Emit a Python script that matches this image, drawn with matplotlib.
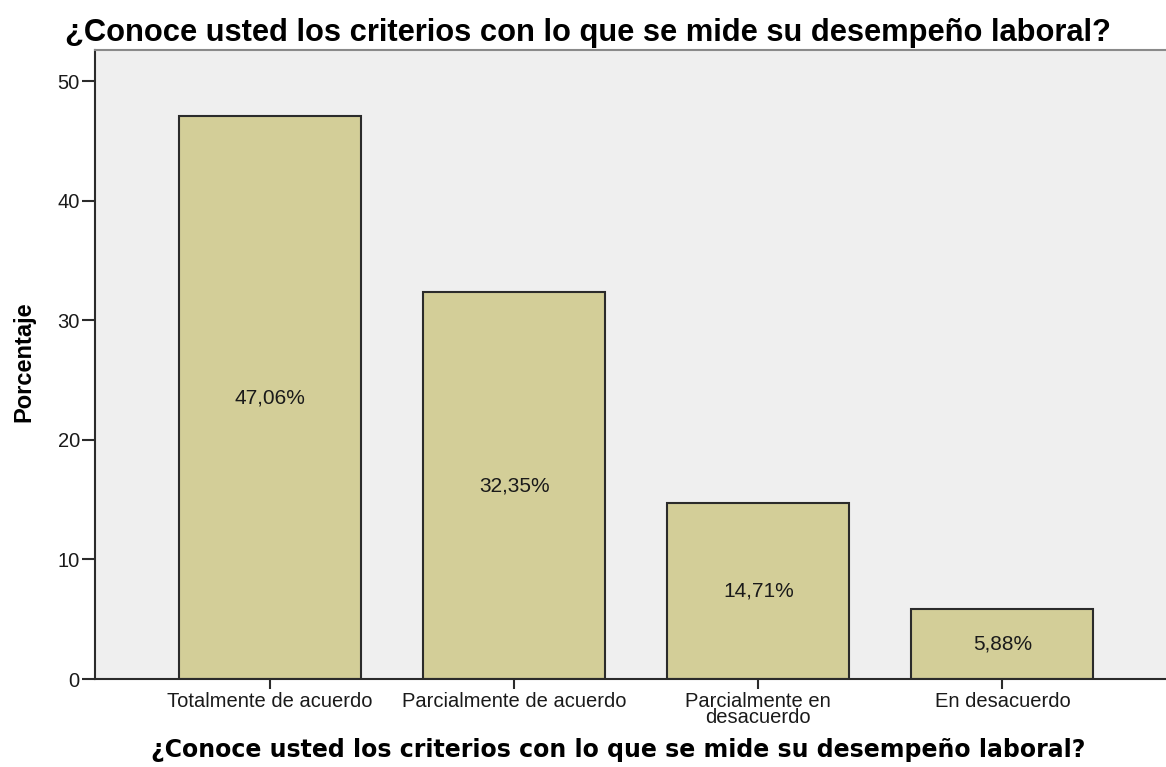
import matplotlib.pyplot as plt
import numpy as np

categorias = ['Totalmente de acuerdo', 'Parcialmente de acuerdo',
              'Parcialmente en\ndesacuerdo', 'En desacuerdo']
porcentajes = [47.06, 32.35, 14.71, 5.88]
etiquetas = ['47,06%', '32,35%', '14,71%', '5,88%']

pregunta = '¿Conoce usted los criterios con lo que se mide su desempeño laboral?'

fig = plt.figure(figsize=(11.66, 7.67), dpi=100)
ax = fig.add_axes([0.0815, 0.1147, 0.9185, 0.8201])
ax.set_facecolor('#efefef')

x = np.arange(len(porcentajes))
ax.bar(x, porcentajes, width=0.746, color='#d3ce98', edgecolor='#2b2b2b',
       linewidth=1.5, zorder=2)

# porcentajes escritos a media altura de cada barra
for xi, v, t in zip(x, porcentajes, etiquetas):
    ax.text(xi, v / 2, t, ha='center', va='center', fontsize=15,
            family='Liberation Sans', color='#1a1a1a', zorder=3)

ax.set_xlim(-0.717, 3.67)
ax.set_ylim(0, 52.6)
ax.set_yticks([0, 10, 20, 30, 40, 50])
ax.set_xticks(x)
ax.set_xticklabels(categorias, family='Liberation Sans', fontsize=14.5,
                   linespacing=0.8)
for lab in ax.get_yticklabels():
    lab.set_family('Liberation Sans')
    lab.set_fontsize(14.5)

ax.tick_params(axis='y', direction='out', length=9.5, width=1.5,
               color='#2b2b2b', labelcolor='#1a1a1a', pad=1.5)
ax.tick_params(axis='x', direction='out', length=7, width=1.5,
               color='#2b2b2b', labelcolor='#1a1a1a', pad=2)

for s in ['left', 'bottom']:
    ax.spines[s].set_color('#2b2b2b')
    ax.spines[s].set_linewidth(1.5)
ax.spines['top'].set_color('#8a8a8a')
ax.spines['top'].set_linewidth(1.5)
ax.spines['right'].set_visible(False)

ax.set_ylabel('Porcentaje', family='Liberation Sans', fontweight='bold',
              fontsize=17)
ax.yaxis.set_label_coords(-0.056, 0.505)

# título del eje x y título general, misma pregunta
fig.text(0.53, 0.022, pregunta, ha='center', va='center',
         family='DejaVu Sans', fontweight='bold', fontsize=17)
fig.text(0.504, 0.957, pregunta, ha='center', va='center',
         family='Liberation Sans', fontweight='bold', fontsize=22.2)

fig.savefig('out.png', dpi=100)
